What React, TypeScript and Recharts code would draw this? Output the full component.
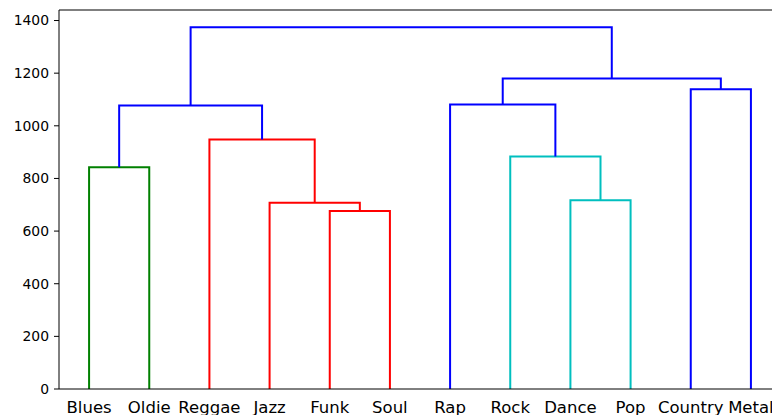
import { LineChart, Line, XAxis, YAxis, ReferenceLine } from 'recharts'

const leaves = ['Blues', 'Oldie', 'Reggae', 'Jazz', 'Funk', 'Soul', 'Rap', 'Rock', 'Dance', 'Pop', 'Country', 'Metal']
const yTicks = [0, 200, 400, 600, 800, 1000, 1200, 1400]

// linkage: ids < 12 are leaves, id 12 + k is merge k
const mergeLeft = [4, 3, 8, 0, 7, 2, 15, 6, 10, 19, 18]
const mergeRight = [5, 12, 9, 1, 14, 13, 17, 16, 11, 20, 21]
const mergeHeight = [676, 708, 717, 843, 883, 948, 1077, 1081, 1139, 1180, 1374]
const mergeColor = ['r', 'r', 'c', 'g', 'c', 'r', 'b', 'b', 'b', 'b', 'b']

const COLORS: Record<string, string> = { r: '#ff0000', g: '#008000', c: '#00bfbf', b: '#0000ff' }
const FONT = '"DejaVu Sans", sans-serif'

// leaves sit at 5, 15, 25, ... like scipy's dendrogram
const leafPos = leaves.map((_, i) => 5 + 10 * i)
const nodeX = [...leafPos]
const nodeH = leaves.map(() => 0)
mergeLeft.forEach((l, k) => {
  nodeX.push((nodeX[l] + nodeX[mergeRight[k]]) / 2)
  nodeH.push(mergeHeight[k])
})

const links = mergeLeft.map((l, k) => {
  const r = mergeRight[k]
  const h = mergeHeight[k]
  return [
    { x: nodeX[l], y: nodeH[l] },
    { x: nodeX[l], y: h },
    { x: nodeX[r], y: h },
    { x: nodeX[r], y: nodeH[r] },
  ]
})

export default function App() {
  return (
    <div style={{ position: 'absolute', left: 0, top: 0, width: 772, height: 415, overflow: 'hidden', background: '#fff' }}>
      <LineChart width={790} height={415} margin={{ top: 10, right: 9, left: 0, bottom: 0 }}>
        <XAxis
          dataKey="x"
          type="number"
          domain={[0, 120]}
          allowDataOverflow
          ticks={leafPos}
          interval={0}
          tickFormatter={(v: number) => leaves[Math.round((v - 5) / 10)]}
          tickLine={false}
          tickSize={5}
          tickMargin={7}
          height={26}
          stroke="#000"
          tick={{ fill: '#000', fontSize: 16.5, fontFamily: FONT }}
        />
        <YAxis
          type="number"
          domain={[0, 1440]}
          allowDataOverflow
          ticks={yTicks}
          interval={0}
          width={59}
          tickSize={5}
          tickMargin={5}
          stroke="#000"
          tick={{ fill: '#000', fontSize: 13.9, fontFamily: FONT }}
        />
        <ReferenceLine y={1440} stroke="#000" strokeWidth={1.1} />
        {links.map((pts, k) => (
          <Line
            key={k}
            data={pts}
            dataKey="y"
            type="linear"
            stroke={COLORS[mergeColor[k]]}
            strokeWidth={2}
            dot={false}
            activeDot={false}
            isAnimationActive={false}
          />
        ))}
      </LineChart>
    </div>
  )
}
